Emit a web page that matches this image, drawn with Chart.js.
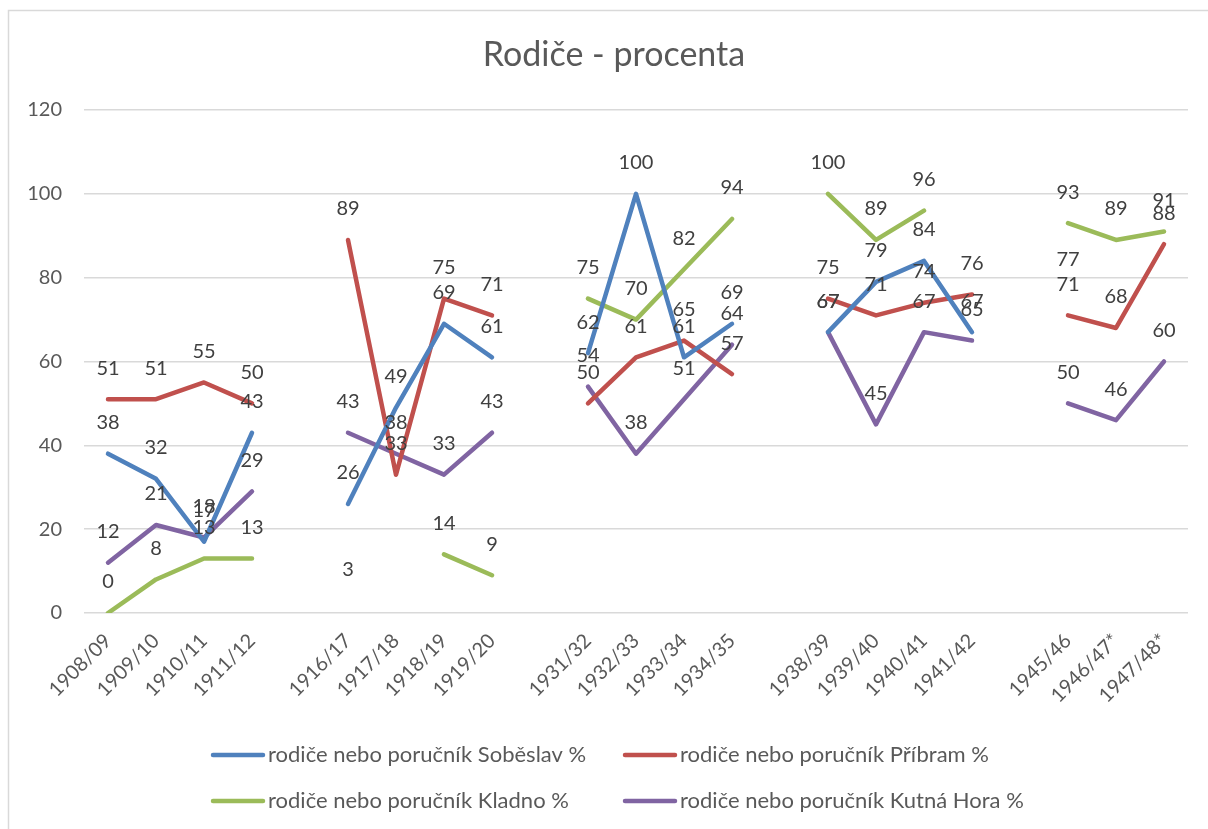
<!DOCTYPE html>
<html>
<head>
<meta charset="utf-8">
<script src="https://cdn.jsdelivr.net/npm/chart.js@4.4.0/dist/chart.umd.min.js"></script>
<style>
  html, body { margin: 0; padding: 0; background: #fff; }
  #wrap { width: 1208px; height: 829px; position: relative; }
</style>
</head>
<body>
<div id="wrap"><canvas id="grafRodice"></canvas></div>
<script>
// --- datos ---
const skolniRoky = ['1908/09', '1909/10', '1910/11', '1911/12', '',
    '1916/17', '1917/18', '1918/19', '1919/20', '',
    '1931/32', '1932/33', '1933/34', '1934/35', '',
    '1938/39', '1939/40', '1940/41', '1941/42', '',
    '1945/46', '1946/47*', '1947/48*'];

const sobeslav  = [38, 32, 17, 43, null, 26, 49, 69, 61, null, 62, 100, 61, 69, null, 67, 79, 84, 67, null, 77, null, null];
const pribram   = [51, 51, 55, 50, null, 89, 33, 75, 71, null, 50, 61, 65, 57, null, 75, 71, 74, 76, null, 71, 68, 88];
const kladno    = [0, 8, 13, 13, null, 3, null, 14, 9, null, 75, 70, 82, 94, null, 100, 89, 96, null, null, 93, 89, 91];
const kutnaHora = [12, 21, 18, 29, null, 43, 38, 33, 43, null, 54, 38, 51, 64, null, 67, 45, 67, 65, null, 50, 46, 60];

const nazvySerii = ['rodiče nebo poručník Soběslav %', 'rodiče nebo poručník Příbram %',
    'rodiče nebo poručník Kladno %', 'rodiče nebo poručník Kutná Hora %'];
const barvy = ['#4F81BD', '#C0504D', '#9BBB59', '#8064A2'];
const yTicks = [0, 20, 40, 60, 80, 100, 120];

const serie = [sobeslav, pribram, kladno, kutnaHora];
const FONT = 'Lato, "Open Sans", sans-serif';

// Excel nekreslí osamocený bod (bez značek), jen jeho popisek
function bezOsamocenych(arr) {
    return arr.map((v, i) => {
        const prev = i > 0 ? arr[i - 1] : null;
        const next = i < arr.length - 1 ? arr[i + 1] : null;
        return (prev === null && next === null) ? null : v;
    });
}

// rámeček + nadpis
const ramecek = {
    id: 'ramecek',
    beforeDraw(chart) {
        const ctx = chart.ctx;
        ctx.save();
        ctx.strokeStyle = '#d9d9d9';
        ctx.lineWidth = 1.5;
        ctx.strokeRect(8.5, 10.5, 1400, 1000);
        ctx.font = '34px ' + FONT;
        ctx.fillStyle = '#595959';
        ctx.textAlign = 'center';
        ctx.textBaseline = 'middle';
        ctx.fillText('Rodiče - procenta', 614, 55);
        ctx.restore();
    }
};

// popisky hodnot nad body
const popisky = {
    id: 'popisky',
    afterDatasetsDraw(chart) {
        const ctx = chart.ctx;
        const sx = chart.scales.x, sy = chart.scales.y;
        ctx.save();
        ctx.font = '20px ' + FONT;
        ctx.fillStyle = '#404040';
        ctx.textAlign = 'center';
        ctx.textBaseline = 'middle';
        serie.forEach(arr => {
            arr.forEach((v, j) => {
                if (v === null) return;
                ctx.fillText(String(v), sx.getPixelForValue(j), sy.getPixelForValue(v) - 31);
            });
        });
        ctx.restore();
    }
};

// legenda ve dvou sloupcích
const legenda = {
    id: 'legenda',
    afterDraw(chart) {
        const ctx = chart.ctx;
        const sloupce = [211, 623];
        const radky = [755, 801];
        ctx.save();
        ctx.font = '22px ' + FONT;
        ctx.textBaseline = 'middle';
        ctx.textAlign = 'left';
        chart.data.datasets.forEach((ds, i) => {
            const x = sloupce[i % 2];
            const y = radky[Math.floor(i / 2)];
            ctx.strokeStyle = ds.borderColor;
            ctx.lineWidth = 4.5;
            ctx.lineCap = 'round';
            ctx.beginPath();
            ctx.moveTo(x + 2, y);
            ctx.lineTo(x + 52, y);
            ctx.stroke();
            ctx.fillStyle = '#595959';
            ctx.fillText(ds.label, x + 57, y);
        });
        ctx.restore();
    }
};

new Chart(document.getElementById('grafRodice'), {
    type: 'line',
    data: {
        labels: skolniRoky,
        datasets: serie.map((d, i) => ({
            label: nazvySerii[i],
            data: bezOsamocenych(d),
            borderColor: barvy[i],
            backgroundColor: barvy[i],
            borderWidth: 4.5,
            borderCapStyle: 'round',
            borderJoinStyle: 'round',
            pointRadius: 0,
            pointHoverRadius: 0,
            tension: 0,
            spanGaps: false
        }))
    },
    options: {
        responsive: true,
        maintainAspectRatio: false,
        animation: false,
        layout: { padding: { left: 0, right: 20, top: 110, bottom: 0 } },
        plugins: {
            legend: { display: false },
            tooltip: { enabled: false },
            title: { display: false }
        },
        scales: {
            x: {
                offset: true,
                grid: { display: false, drawTicks: false },
                border: { display: false },
                ticks: {
                    autoSkip: false,
                    maxRotation: 45,
                    minRotation: 45,
                    padding: 16,
                    color: '#595959',
                    font: { family: FONT, size: 20 }
                },
                afterFit(scale) { scale.height = 829 - 613; }
            },
            y: {
                min: 0,
                max: 120,
                afterBuildTicks(scale) { scale.ticks = yTicks.map(v => ({ value: v })); },
                ticks: {
                    padding: 22,
                    color: '#595959',
                    font: { family: FONT, size: 20 }
                },
                grid: { color: '#d9d9d9', lineWidth: 1.5, drawTicks: false },
                border: { display: false },
                afterFit(scale) { scale.width = 84; }
            }
        }
    },
    plugins: [ramecek, popisky, legenda]
});
</script>
</body>
</html>
